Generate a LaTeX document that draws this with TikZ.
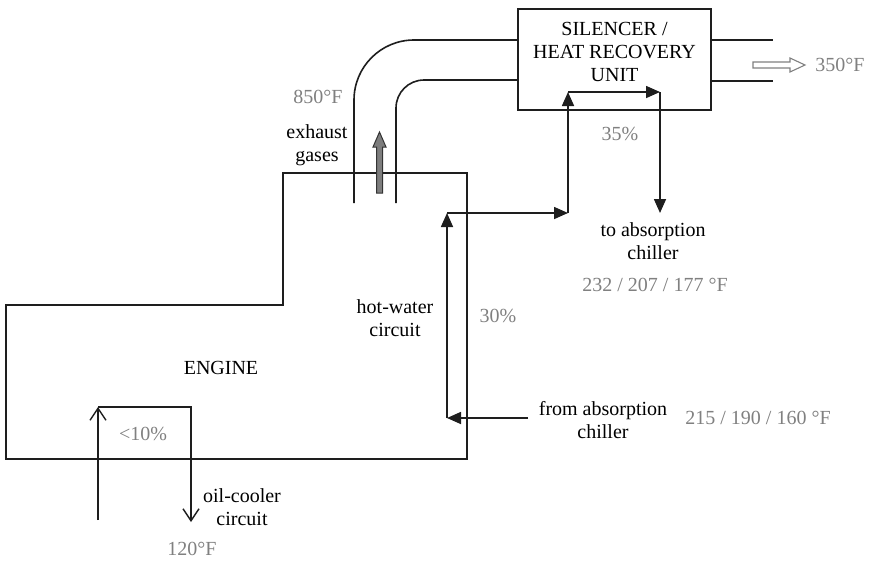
\documentclass[tikz,border=0pt]{standalone}
\usepackage{fontspec}
\setmainfont{Liberation Serif}
\usepackage{tikz}
\usetikzlibrary{arrows.meta,positioning}
\definecolor{cLine}{RGB}{30,30,30}
\definecolor{cTemp}{RGB}{128,128,128}
\definecolor{cGas}{RGB}{125,125,125}

\begin{document}
\begin{tikzpicture}[x=1pt,y=-1pt,
  every node/.style={font=\fontsize{20}{23}\selectfont, align=center, inner sep=0pt},
  wall/.style={cLine, line width=1.6pt},
  flow/.style={cLine, line width=1.6pt, -{Triangle[length=14pt,width=12pt]}},
  oil/.style={cLine, line width=1.4pt, -{Straight Barb[length=12pt,width=16pt]}},
  temp/.style={text=cTemp}]
  \useasboundingbox (0,0) rectangle (869,560);
  % engine block
  \draw[wall] (6,305) -- (283,305) -- (283,173) -- (467,173) -- (467,459) -- (6,459) -- cycle;
  \node (engine) at (221,368) {ENGINE};
  % silencer / heat recovery unit
  \node[draw=cLine, line width=1.6pt, minimum width=193pt, minimum height=101pt] (hru) at (614.5,59.5) {};
  \node (hrutext) at (614.5,52) {SILENCER /\\HEAT RECOVERY\\UNIT};
  % exhaust pipes
  \draw[wall, rounded corners=60pt] (354,203) -- (354,40) -- (518,40);
  \draw[wall, rounded corners=28pt] (396,203) -- (396,80) -- (518,80);
  \draw[wall] (711,40) -- (773,40);
  \draw[wall] (711,81) -- (773,81);
  % gas arrows
  \filldraw[fill=cGas, draw=gray!40!black, line width=1pt]
    (376.5,193) -- (376.5,147) -- (373,147) -- (379.5,132) -- (386,147) -- (382.5,147) -- (382.5,193) -- cycle;
  \filldraw[fill=white, draw=gray, line width=1.1pt]
    (753,62) -- (790,62) -- (790,58) -- (805,65) -- (790,72) -- (790,68) -- (753,68) -- cycle;
  % hot-water circuit
  \coordinate (fromin) at (528,418);
  \coordinate (hwbl) at (447,418);
  \coordinate (hwtl) at (447,213);
  \coordinate (hwtr) at (568,213);
  \coordinate (hrubl) at (568,92);
  \coordinate (hrubr) at (660,92);
  \coordinate (chout) at (660,213);
  \draw[flow] (fromin) -- (hwbl);
  \draw[flow] (hwbl) -- (hwtl);
  \draw[flow] (hwtl) -- (hwtr);
  \draw[flow] (hwtr) -- (hrubl);
  \draw[flow] (hrubl) -- (hrubr);
  \draw[flow] (hrubr) -- (chout);
  % oil-cooler circuit
  \coordinate (oilin) at (98,520);
  \coordinate (oiltl) at (98,407);
  \coordinate (oiltr) at (191,407);
  \coordinate (oilout) at (191,522);
  \draw[oil] (oilin) -- (oiltl);
  \draw[oil] (oiltl) -- (oiltr) -- (oilout);
  % labels
  \node[temp] (tgas) at (318,97) {850°F};
  \node (exh) at (317,145) {exhaust\\gases};
  \node[temp] (p35) at (620,134) {35\%};
  \node (toabs) at (653,241) {to absorption\\chiller};
  \node[temp] (tto) at (655,285) {232 / 207 / 177 °F};
  \node[temp] (p30) at (498,316) {30\%};
  \node (hw) at (395,318.5) {hot-water\\circuit};
  \node (fromabs) at (603,420) {from absorption\\chiller};
  \node[temp] (tfrom) at (758,418) {215 / 190 / 160 °F};
  \node[temp] (p10) at (143,434) {<10\%};
  \node (oilc) at (242,507.5) {oil-cooler\\circuit};
  \node[temp] (toil) at (192,549) {120°F};
  \node[temp] (texit) at (840,65) {350°F};
\end{tikzpicture}
\end{document}
